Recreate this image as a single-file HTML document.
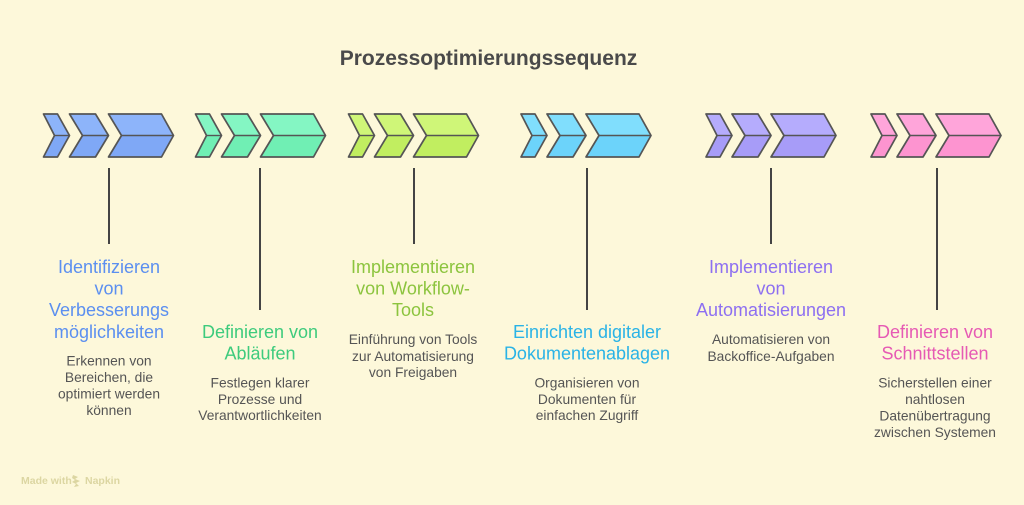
<!DOCTYPE html>
<html>
<head>
<meta charset="utf-8">
<style>
  html,body{margin:0;padding:0;background:#fdf8da;}
  svg{display:block;}
  text{font-family:"Liberation Sans",sans-serif;}
  .h{font-size:18px;text-anchor:middle;}
  .d{font-size:13.8px;text-anchor:middle;fill:#555555;}
  .s{fill:none;stroke:#555555;stroke-width:1.7;stroke-linejoin:round;}
  .m{stroke:#555555;stroke-width:1.4;}
  .v{stroke:#444444;stroke-width:2;}
</style>
</head>
<body>
<svg width="1024" height="505" viewBox="0 0 1024 505" xmlns="http://www.w3.org/2000/svg">
  <rect width="1024" height="505" fill="#fdf8da"/>

  <text x="488.5" y="65" font-size="21" font-weight="bold" fill="#4a4a4a" text-anchor="middle">Prozessoptimierungssequenz</text>

  <!-- Group 1 blue -->
  <g transform="translate(43.5,0)">
    <polygon fill="#8db4fa" points="0,114 14,114 26,135.5 11,135.5"/>
    <polygon fill="#7fa8f6" points="11,135.5 26,135.5 14,157 0,157"/>
    <polygon class="s" points="0,114 14,114 26,135.5 14,157 0,157 11,135.5"/>
    <line class="m" x1="11" y1="135.5" x2="26" y2="135.5"/>
    <polygon fill="#8db4fa" points="26,114 52,114 65,135.5 39,135.5"/>
    <polygon fill="#7fa8f6" points="39,135.5 65,135.5 52,157 26,157"/>
    <polygon class="s" points="26,114 52,114 65,135.5 52,157 26,157 39,135.5"/>
    <line class="m" x1="39" y1="135.5" x2="65" y2="135.5"/>
    <polygon fill="#8db4fa" points="65,114 118,114 130,135.5 78,135.5"/>
    <polygon fill="#7fa8f6" points="78,135.5 130,135.5 118,157 65,157"/>
    <polygon class="s" points="65,114 118,114 130,135.5 118,157 65,157 78,135.5"/>
    <line class="m" x1="78" y1="135.5" x2="130" y2="135.5"/>
  </g>

  <!-- Group 2 green -->
  <g transform="translate(195.5,0)">
    <polygon fill="#84f6c3" points="0,114 14,114 26,135.5 11,135.5"/>
    <polygon fill="#70efb4" points="11,135.5 26,135.5 14,157 0,157"/>
    <polygon class="s" points="0,114 14,114 26,135.5 14,157 0,157 11,135.5"/>
    <line class="m" x1="11" y1="135.5" x2="26" y2="135.5"/>
    <polygon fill="#84f6c3" points="26,114 52,114 65,135.5 39,135.5"/>
    <polygon fill="#70efb4" points="39,135.5 65,135.5 52,157 26,157"/>
    <polygon class="s" points="26,114 52,114 65,135.5 52,157 26,157 39,135.5"/>
    <line class="m" x1="39" y1="135.5" x2="65" y2="135.5"/>
    <polygon fill="#84f6c3" points="65,114 118,114 130,135.5 78,135.5"/>
    <polygon fill="#70efb4" points="78,135.5 130,135.5 118,157 65,157"/>
    <polygon class="s" points="65,114 118,114 130,135.5 118,157 65,157 78,135.5"/>
    <line class="m" x1="78" y1="135.5" x2="130" y2="135.5"/>
  </g>

  <!-- Group 3 lime -->
  <g transform="translate(348.5,0)">
    <polygon fill="#cff678" points="0,114 14,114 26,135.5 11,135.5"/>
    <polygon fill="#c1ee60" points="11,135.5 26,135.5 14,157 0,157"/>
    <polygon class="s" points="0,114 14,114 26,135.5 14,157 0,157 11,135.5"/>
    <line class="m" x1="11" y1="135.5" x2="26" y2="135.5"/>
    <polygon fill="#cff678" points="26,114 52,114 65,135.5 39,135.5"/>
    <polygon fill="#c1ee60" points="39,135.5 65,135.5 52,157 26,157"/>
    <polygon class="s" points="26,114 52,114 65,135.5 52,157 26,157 39,135.5"/>
    <line class="m" x1="39" y1="135.5" x2="65" y2="135.5"/>
    <polygon fill="#cff678" points="65,114 118,114 130,135.5 78,135.5"/>
    <polygon fill="#c1ee60" points="78,135.5 130,135.5 118,157 65,157"/>
    <polygon class="s" points="65,114 118,114 130,135.5 118,157 65,157 78,135.5"/>
    <line class="m" x1="78" y1="135.5" x2="130" y2="135.5"/>
  </g>

  <!-- Group 4 cyan -->
  <g transform="translate(521,0)">
    <polygon fill="#80defd" points="0,114 14,114 26,135.5 11,135.5"/>
    <polygon fill="#6cd3fa" points="11,135.5 26,135.5 14,157 0,157"/>
    <polygon class="s" points="0,114 14,114 26,135.5 14,157 0,157 11,135.5"/>
    <line class="m" x1="11" y1="135.5" x2="26" y2="135.5"/>
    <polygon fill="#80defd" points="26,114 52,114 65,135.5 39,135.5"/>
    <polygon fill="#6cd3fa" points="39,135.5 65,135.5 52,157 26,157"/>
    <polygon class="s" points="26,114 52,114 65,135.5 52,157 26,157 39,135.5"/>
    <line class="m" x1="39" y1="135.5" x2="65" y2="135.5"/>
    <polygon fill="#80defd" points="65,114 118,114 130,135.5 78,135.5"/>
    <polygon fill="#6cd3fa" points="78,135.5 130,135.5 118,157 65,157"/>
    <polygon class="s" points="65,114 118,114 130,135.5 118,157 65,157 78,135.5"/>
    <line class="m" x1="78" y1="135.5" x2="130" y2="135.5"/>
  </g>

  <!-- Group 5 purple -->
  <g transform="translate(706,0)">
    <polygon fill="#b5acfd" points="0,114 14,114 26,135.5 11,135.5"/>
    <polygon fill="#a79cf8" points="11,135.5 26,135.5 14,157 0,157"/>
    <polygon class="s" points="0,114 14,114 26,135.5 14,157 0,157 11,135.5"/>
    <line class="m" x1="11" y1="135.5" x2="26" y2="135.5"/>
    <polygon fill="#b5acfd" points="26,114 52,114 65,135.5 39,135.5"/>
    <polygon fill="#a79cf8" points="39,135.5 65,135.5 52,157 26,157"/>
    <polygon class="s" points="26,114 52,114 65,135.5 52,157 26,157 39,135.5"/>
    <line class="m" x1="39" y1="135.5" x2="65" y2="135.5"/>
    <polygon fill="#b5acfd" points="65,114 118,114 130,135.5 78,135.5"/>
    <polygon fill="#a79cf8" points="78,135.5 130,135.5 118,157 65,157"/>
    <polygon class="s" points="65,114 118,114 130,135.5 118,157 65,157 78,135.5"/>
    <line class="m" x1="78" y1="135.5" x2="130" y2="135.5"/>
  </g>

  <!-- Group 6 pink -->
  <g transform="translate(871,0)">
    <polygon fill="#ffa5da" points="0,114 14,114 26,135.5 11,135.5"/>
    <polygon fill="#fd94d0" points="11,135.5 26,135.5 14,157 0,157"/>
    <polygon class="s" points="0,114 14,114 26,135.5 14,157 0,157 11,135.5"/>
    <line class="m" x1="11" y1="135.5" x2="26" y2="135.5"/>
    <polygon fill="#ffa5da" points="26,114 52,114 65,135.5 39,135.5"/>
    <polygon fill="#fd94d0" points="39,135.5 65,135.5 52,157 26,157"/>
    <polygon class="s" points="26,114 52,114 65,135.5 52,157 26,157 39,135.5"/>
    <line class="m" x1="39" y1="135.5" x2="65" y2="135.5"/>
    <polygon fill="#ffa5da" points="65,114 118,114 130,135.5 78,135.5"/>
    <polygon fill="#fd94d0" points="78,135.5 130,135.5 118,157 65,157"/>
    <polygon class="s" points="65,114 118,114 130,135.5 118,157 65,157 78,135.5"/>
    <line class="m" x1="78" y1="135.5" x2="130" y2="135.5"/>
  </g>

  <!-- Vertical connectors -->
  <line class="v" x1="109" y1="168" x2="109" y2="244"/>
  <line class="v" x1="260" y1="168" x2="260" y2="310"/>
  <line class="v" x1="414" y1="168" x2="414" y2="244"/>
  <line class="v" x1="587" y1="168" x2="587" y2="310"/>
  <line class="v" x1="771" y1="168" x2="771" y2="244"/>
  <line class="v" x1="937" y1="168" x2="937" y2="310"/>

  <!-- Group 1 text -->
  <g fill="#5b8ff0">
    <text class="h" x="109" y="273">Identifizieren</text>
    <text class="h" x="109" y="294.5">von</text>
    <text class="h" x="109" y="316">Verbesserungs</text>
    <text class="h" x="109" y="338">möglichkeiten</text>
  </g>
  <text class="d" x="109" y="365.5">Erkennen von</text>
  <text class="d" x="109" y="382">Bereichen, die</text>
  <text class="d" x="109" y="398.5">optimiert werden</text>
  <text class="d" x="109" y="415">können</text>

  <!-- Group 2 text -->
  <g fill="#3ecb7d">
    <text class="h" x="260" y="338">Definieren von</text>
    <text class="h" x="260" y="359.5">Abläufen</text>
  </g>
  <text class="d" x="260" y="387.5">Festlegen klarer</text>
  <text class="d" x="260" y="404">Prozesse und</text>
  <text class="d" x="260" y="420">Verantwortlichkeiten</text>

  <!-- Group 3 text -->
  <g fill="#8cc43e">
    <text class="h" x="413" y="273">Implementieren</text>
    <text class="h" x="413" y="294.5">von Workflow-</text>
    <text class="h" x="413" y="316">Tools</text>
  </g>
  <text class="d" x="413" y="344">Einführung von Tools</text>
  <text class="d" x="413" y="361">zur Automatisierung</text>
  <text class="d" x="413" y="377">von Freigaben</text>

  <!-- Group 4 text -->
  <g fill="#2ab3e6">
    <text class="h" x="587" y="338">Einrichten digitaler</text>
    <text class="h" x="587" y="359.5">Dokumentenablagen</text>
  </g>
  <text class="d" x="587" y="387.5">Organisieren von</text>
  <text class="d" x="587" y="404">Dokumenten für</text>
  <text class="d" x="587" y="420">einfachen Zugriff</text>

  <!-- Group 5 text -->
  <g fill="#8d6ff1">
    <text class="h" x="771" y="273">Implementieren</text>
    <text class="h" x="771" y="294.5">von</text>
    <text class="h" x="771" y="316">Automatisierungen</text>
  </g>
  <text class="d" x="771" y="344">Automatisieren von</text>
  <text class="d" x="771" y="361">Backoffice-Aufgaben</text>

  <!-- Group 6 text -->
  <g fill="#e65ab4">
    <text class="h" x="935" y="338">Definieren von</text>
    <text class="h" x="935" y="359.5">Schnittstellen</text>
  </g>
  <text class="d" x="935" y="387.5">Sicherstellen einer</text>
  <text class="d" x="935" y="404">nahtlosen</text>
  <text class="d" x="935" y="420.5">Datenübertragung</text>
  <text class="d" x="935" y="437">zwischen Systemen</text>

  <!-- Watermark -->
  <text x="21" y="484" font-size="10.5" font-weight="bold" fill="#dcd6a2">Made with</text>
  <polygon fill="#dcd6a2" points="73,475 78,477 75,479 80,481 76,483 79,486 74,487 76,484 72,482 75,480 72,478"/>
  <text x="85" y="484" font-size="10.5" font-weight="bold" fill="#dcd6a2">Napkin</text>
</svg>
</body>
</html>
